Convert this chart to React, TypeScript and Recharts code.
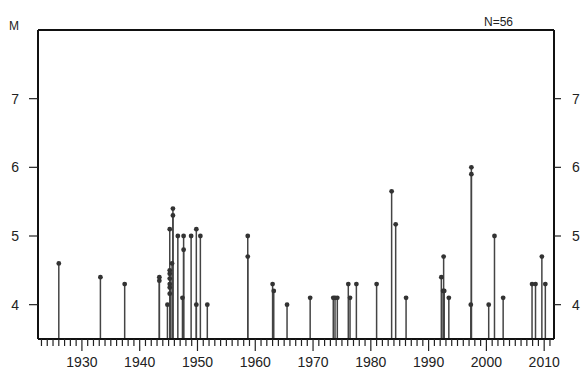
import React from "react";
import { ScatterChart, Scatter, XAxis, YAxis, ErrorBar, ReferenceLine } from "recharts";

// event years and magnitudes
const years = [
  1926.0, 1933.2, 1937.4, 1943.4, 1943.4,
  1944.8, 1945.2, 1945.2, 1945.2, 1945.2, 1945.2, 1945.2, 1945.2, 1945.6, 1945.75, 1945.75,
  1946.6, 1947.4, 1947.6, 1947.6, 1948.9, 1949.8, 1949.8, 1950.5, 1951.7,
  1958.7, 1958.7, 1963.0, 1963.2, 1965.5, 1969.5,
  1973.5, 1973.8, 1974.2, 1976.1, 1976.4, 1977.5, 1981.0,
  1983.6, 1984.3, 1986.1, 1992.2, 1992.6, 1992.5, 1992.7, 1993.5,
  1997.4, 1997.4, 1997.3, 2000.4, 2001.4, 2002.9,
  2007.9, 2008.5, 2009.6, 2010.2,
];
const mags = [
  4.6, 4.4, 4.3, 4.4, 4.35,
  4.0, 5.1, 4.5, 4.45, 4.38, 4.3, 4.25, 4.16, 4.6, 5.4, 5.3,
  5.0, 4.1, 4.8, 5.0, 5.0, 5.1, 4.0, 5.0, 4.0,
  5.0, 4.7, 4.3, 4.2, 4.0, 4.1,
  4.1, 4.1, 4.1, 4.3, 4.1, 4.3, 4.3,
  5.65, 5.17, 4.1, 4.4, 4.7, 4.2, 4.2, 4.1,
  6.0, 5.9, 4.0, 4.0, 5.0, 4.1,
  4.3, 4.3, 4.7, 4.3,
];
const yTicks = [4, 5, 6, 7];
const xTicks: number[] = [];
for (let y = 1923; y <= 2011; y++) xTicks.push(y);

const M_MIN = 3.5;
const M_MAX = 8;

const data = years.map((yr, i) => ({ year: yr, m: mags[i], stem: [mags[i] - M_MIN, 0] }));

const font = "'Liberation Sans', Arial, sans-serif";

function YearTick(props: any) {
  const { x, y, payload } = props;
  const major = payload.value % 10 === 0;
  return (
    <g>
      <line x1={x} y1={y} x2={x} y2={y + (major ? 12 : 7)} stroke="#222" strokeWidth={1.2} />
      {major && (
        <text x={x} y={y + 28} textAnchor="middle" fontSize={14} fill="#222" fontFamily={font}>
          {payload.value}
        </text>
      )}
    </g>
  );
}

export default function App() {
  return (
    <div style={{ position: "absolute", left: 0, top: 0, width: 584, height: 371, background: "#fff" }}>
      <ScatterChart width={584} height={371} margin={{ top: 30, right: 0, bottom: 0, left: 0 }}>
        <XAxis
          dataKey="year"
          type="number"
          domain={[1922.4, 2011.7]}
          ticks={xTicks}
          interval={0}
          tickSize={0}
          tickMargin={0}
          tick={<YearTick />}
          height={32}
          axisLine={{ stroke: "#111", strokeWidth: 2 }}
          allowDataOverflow
        />
        <YAxis
          dataKey="m"
          type="number"
          domain={[M_MIN, M_MAX]}
          ticks={yTicks}
          width={38}
          tickSize={9}
          tickMargin={10}
          tick={{ fontSize: 14, fill: "#222", fontFamily: font }}
          tickLine={{ stroke: "#222", strokeWidth: 1.2 }}
          axisLine={{ stroke: "#111", strokeWidth: 2 }}
          allowDataOverflow
        />
        <YAxis
          yAxisId="right"
          orientation="right"
          type="number"
          domain={[M_MIN, M_MAX]}
          ticks={yTicks}
          width={30}
          tickSize={7}
          tickMargin={11}
          tick={{ fontSize: 14, fill: "#222", fontFamily: font }}
          tickLine={{ stroke: "#222", strokeWidth: 1.2 }}
          axisLine={{ stroke: "#111", strokeWidth: 2 }}
          allowDataOverflow
        />
        <ReferenceLine y={M_MAX} stroke="#111" strokeWidth={2} />
        <Scatter
          data={data}
          isAnimationActive={false}
          shape={(p: any) => <circle cx={p.cx} cy={p.cy} r={2.4} fill="#333" />}
        >
          <ErrorBar dataKey="stem" direction="y" width={0} stroke="#444" strokeWidth={1.5} isAnimationActive={false} />
        </Scatter>
      </ScatterChart>
      <div style={{ position: "absolute", left: 9, top: 19, fontFamily: font, fontSize: 12, color: "#222" }}>M</div>
      <div style={{ position: "absolute", left: 484, top: 15, fontFamily: font, fontSize: 12, color: "#222" }}>N=56</div>
    </div>
  );
}
